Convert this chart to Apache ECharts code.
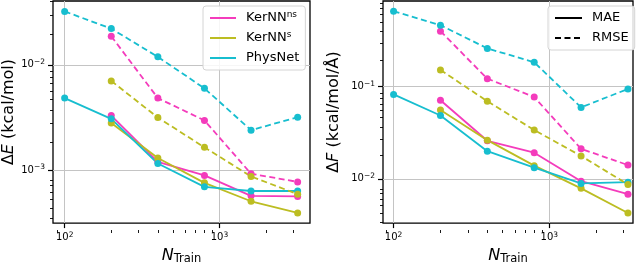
<!DOCTYPE html>
<html>
<head>
<meta charset="utf-8">
<script src="https://cdn.jsdelivr.net/npm/echarts@6/dist/echarts.min.js"></script>
<style>
html,body{margin:0;padding:0;background:#fff;}
#chart{width:640px;height:270px;}
</style>
</head>
<body>
<div id="chart"></div>
<script>
// ---- data ----
const nTrain = [100, 200, 400, 800, 1600, 3200];
const nTrainK = [200, 400, 800, 1600, 3200];

// Energy errors (kcal/mol)
const physE_mae  = [0.00482, 0.00306, 0.00115, 0.00069, 0.00063, 0.00063];
const physE_rmse = [0.0322, 0.0221, 0.0119, 0.00597, 0.00239, 0.00317];
const nsE_mae    = [0.00329, 0.00119, 0.000886, 0.000567, 0.000560];
const nsE_rmse   = [0.0187, 0.00482, 0.00296, 0.000919, 0.000769];
const sE_mae     = [0.00279, 0.0013, 0.000753, 0.000503, 0.00039];
const sE_rmse    = [0.00702, 0.00315, 0.00164, 0.000867, 0.000588];

// Force errors (kcal/mol/Å)
const physF_mae  = [0.0818, 0.0484, 0.0199, 0.0132, 0.00893, 0.00922];
const physF_rmse = [0.647, 0.458, 0.257, 0.182, 0.0592, 0.0937];
const nsF_mae    = [0.0708, 0.0258, 0.0192, 0.00944, 0.00684];
const nsF_rmse   = [0.394, 0.121, 0.0767, 0.0211, 0.0141];
const sF_mae     = [0.0556, 0.0262, 0.0139, 0.0079, 0.00428];
const sF_rmse    = [0.150, 0.069, 0.0337, 0.0177, 0.0087];

// tick values
const xMajor = [100, 1000];
const xMinor = [90, 200, 300, 400, 500, 600, 700, 800, 900, 2000, 3000];
const yEMajor = [0.001, 0.01];
const yEMinor = [0.0004, 0.0005, 0.0006, 0.0007, 0.0008, 0.0009,
                 0.002, 0.003, 0.004, 0.005, 0.006, 0.007, 0.008, 0.009, 0.02, 0.03, 0.04];
const yFMajor = [0.01, 0.1];
const yFMinor = [0.004, 0.005, 0.006, 0.007, 0.008, 0.009,
                 0.02, 0.03, 0.04, 0.05, 0.06, 0.07, 0.08, 0.09, 0.2, 0.3, 0.4, 0.5, 0.6, 0.7, 0.8];

const models = ['KerNNns', 'KerNNs', 'PhysNet'];
const colors = {KerNNns: '#f43cbc', KerNNs: '#bcbd22', PhysNet: '#17becf'};

// ---- helpers ----
const FONT = 'DejaVu Sans';
function pow10Label(v) {
  const e = Math.round(Math.log10(v));
  return '{b|10}{s|' + (e < 0 ? '\u2212' : '') + Math.abs(e) + '}';
}
const tickRich = {
  b: {fontSize: 10, fontFamily: FONT, color: '#000'},
  s: {fontSize: 7.5, fontFamily: FONT, color: '#000', padding: [0, 0, 5, 0]}
};
function majorAxis(gridIndex, min, max, ticks, extra) {
  return Object.assign({
    type: 'log', logBase: 10, gridIndex, min, max,
    axisLine: {show: false},
    axisTick: {show: true, length: 5, customValues: ticks, lineStyle: {color: '#000', width: 1.2}},
    minorTick: {show: false},
    axisLabel: {show: true, customValues: ticks, formatter: pow10Label, rich: tickRich, margin: 8},
    splitLine: {show: true, lineStyle: {color: '#c4c4c4', width: 1}},
    axisPointer: {show: false}
  }, extra || {});
}
function minorAxis(gridIndex, min, max, ticks, pos) {
  return {
    type: 'log', logBase: 10, gridIndex, min, max, position: pos,
    axisLine: {show: false},
    axisTick: {show: true, length: 3, customValues: ticks, lineStyle: {color: '#000', width: 0.9}},
    axisLabel: {show: true, customValues: ticks, formatter: function () { return ''; }},
    splitLine: {show: false},
    axisPointer: {show: false}
  };
}
function pairs(xs, ys) { return xs.map((x, i) => [x, ys[i]]); }
function line(name, xs, ys, xi, yi, dashed) {
  return {
    name, type: 'line', xAxisIndex: xi, yAxisIndex: yi,
    data: pairs(xs, ys),
    symbol: 'circle', symbolSize: 7,
    itemStyle: {color: colors[name]},
    lineStyle: {color: colors[name], width: 1.8, type: dashed ? [6, 3.5] : 'solid'},
    emphasis: {disabled: true},
    animation: false
  };
}

const xLmin = Math.pow(10, 1.9247), xLmax = Math.pow(10, 3.585);
const xRmin = Math.pow(10, 1.932), xRmax = Math.pow(10, 3.5376);
const yEmin = Math.pow(10, -3.506), yEmax = Math.pow(10, -1.393);
const yFmin = Math.pow(10, -2.478), yFmax = Math.pow(10, -0.078);

const xName = '{n|N}{sub|Train}';
const xNameStyle = {
  rich: {
    n: {fontSize: 16, fontStyle: 'italic', fontFamily: FONT, color: '#000'},
    sub: {fontSize: 11.5, fontFamily: FONT, color: '#000', padding: [7, 0, 0, 0]}
  }
};
const yNameRich = {
  d: {fontSize: 16, fontFamily: FONT, color: '#000'},
  i: {fontSize: 16, fontStyle: 'italic', fontFamily: FONT, color: '#000'}
};

const gridL = {left: 53, top: 1, width: 257, height: 229};
const gridR = {left: 383, top: 1, width: 250, height: 229};

const option = {
  backgroundColor: '#fff',
  animation: false,
  textStyle: {fontFamily: FONT},
  grid: [
    Object.assign({show: true, borderColor: '#000', borderWidth: 1.3, containLabel: false}, gridL),
    Object.assign({show: true, borderColor: '#000', borderWidth: 1.3, containLabel: false}, gridR),
    Object.assign({show: false, containLabel: false}, gridL),
    Object.assign({show: false, containLabel: false}, gridR)
  ],
  xAxis: [
    majorAxis(0, xLmin, xLmax, xMajor, {position: 'bottom', name: xName, nameLocation: 'middle', nameGap: 14, nameTextStyle: xNameStyle}),
    minorAxis(2, xLmin, xLmax, xMinor, 'bottom'),
    majorAxis(1, xRmin, xRmax, xMajor, {position: 'bottom', name: xName, nameLocation: 'middle', nameGap: 14, nameTextStyle: xNameStyle}),
    minorAxis(3, xRmin, xRmax, xMinor, 'bottom')
  ],
  yAxis: [
    majorAxis(0, yEmin, yEmax, yEMajor, {position: 'left', name: '{d|Δ}{i|E}{d| (kcal/mol)}', nameLocation: 'middle', nameGap: 30, nameTextStyle: {rich: yNameRich}}),
    minorAxis(2, yEmin, yEmax, yEMinor, 'left'),
    majorAxis(1, yFmin, yFmax, yFMajor, {position: 'left', name: '{d|Δ}{i|F}{d| (kcal/mol/Å)}', nameLocation: 'middle', nameGap: 41, nameTextStyle: {rich: yNameRich}}),
    minorAxis(3, yFmin, yFmax, yFMinor, 'left')
  ],
  legend: [
    {
      data: models, left: 203, top: 6, orient: 'vertical',
      itemWidth: 26, itemHeight: 2, itemGap: 4, padding: [4, 6, 4, 6],
      backgroundColor: 'rgba(255,255,255,0.85)', borderColor: '#d4d4d4', borderWidth: 1, borderRadius: 3,
      selectedMode: false,
      formatter: function (name) {
        if (name === 'KerNNns') return 'KerNN{s|ns}';
        if (name === 'KerNNs') return 'KerNN{s|s}';
        return name;
      },
      textStyle: {fontSize: 13, fontFamily: FONT, color: '#000', lineHeight: 16, padding: [0, 0, 0, 5],
        rich: {s: {fontSize: 9, fontFamily: FONT, color: '#000', padding: [0, 0, 6, 0]}}}
    },
    {
      data: ['MAE', 'RMSE'], left: 548, top: 6, orient: 'vertical',
      itemWidth: 27, itemHeight: 2, itemGap: 4, padding: [4, 6, 4, 6],
      backgroundColor: 'rgba(255,255,255,0.85)', borderColor: '#d4d4d4', borderWidth: 1, borderRadius: 3,
      selectedMode: false,
      textStyle: {fontSize: 13, fontFamily: FONT, color: '#000', lineHeight: 16, padding: [0, 0, 0, 5]}
    }
  ],
  series: [
    // left panel: energy
    line('KerNNns', nTrainK, nsE_mae, 0, 0, false),
    line('KerNNs', nTrainK, sE_mae, 0, 0, false),
    line('PhysNet', nTrain, physE_mae, 0, 0, false),
    line('KerNNns', nTrainK, nsE_rmse, 0, 0, true),
    line('KerNNs', nTrainK, sE_rmse, 0, 0, true),
    line('PhysNet', nTrain, physE_rmse, 0, 0, true),
    // right panel: forces
    line('KerNNns', nTrainK, nsF_mae, 2, 2, false),
    line('KerNNs', nTrainK, sF_mae, 2, 2, false),
    line('PhysNet', nTrain, physF_mae, 2, 2, false),
    line('KerNNns', nTrainK, nsF_rmse, 2, 2, true),
    line('KerNNs', nTrainK, sF_rmse, 2, 2, true),
    line('PhysNet', nTrain, physF_rmse, 2, 2, true),
    // legend-only style keys
    {name: 'MAE', type: 'line', xAxisIndex: 2, yAxisIndex: 2, data: [], symbol: 'none',
     itemStyle: {color: '#000'}, lineStyle: {color: '#000', width: 1.8, type: 'solid'}},
    {name: 'RMSE', type: 'line', xAxisIndex: 2, yAxisIndex: 2, data: [], symbol: 'none',
     itemStyle: {color: '#000'}, lineStyle: {color: '#000', width: 1.8, type: [6, 3.5]}}
  ]
};

const chart = echarts.init(document.getElementById('chart'), null, {renderer: 'canvas'});
chart.setOption(option);
</script>
</body>
</html>
